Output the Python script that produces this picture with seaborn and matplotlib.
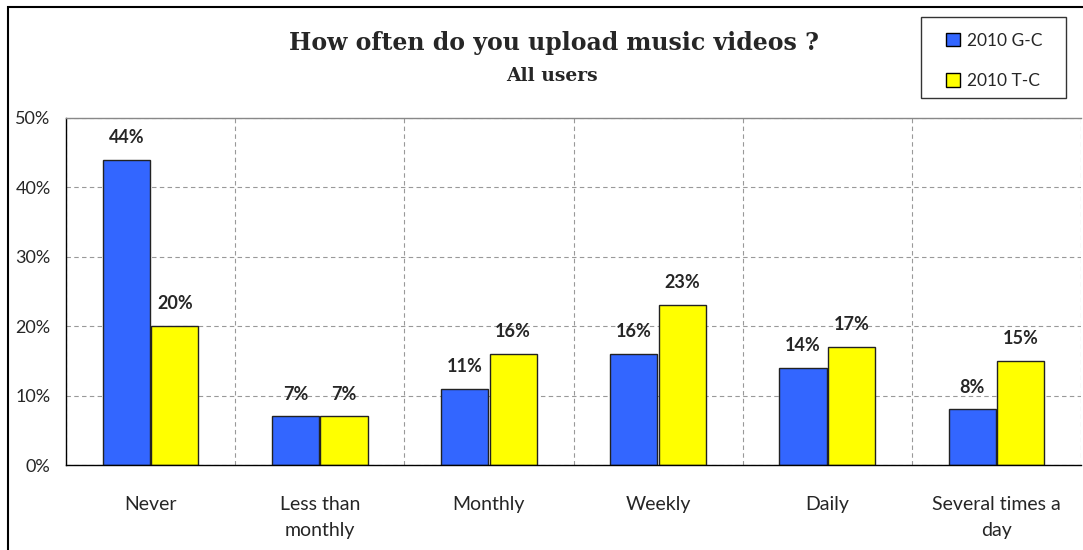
import numpy as np
import pandas as pd
import matplotlib
matplotlib.use("Agg")
import matplotlib.pyplot as plt
import seaborn as sns
from matplotlib.patches import Rectangle, Patch
from matplotlib.ticker import FixedLocator, PercentFormatter

# data
categories = ["Never", "Less than\nmonthly", "Monthly", "Weekly", "Daily", "Several times a\nday"]
series_names = ["2010 G-C", "2010 T-C"]
gc_values = [44, 7, 11, 16, 14, 8]
tc_values = [20, 7, 16, 23, 17, 15]
colors = ["#3366FF", "#FFFF00"]

df = pd.DataFrame({
    "category": categories * 2,
    "series": [series_names[0]] * len(categories) + [series_names[1]] * len(categories),
    "value": gc_values + tc_values,
})

sns.set_style("white")
plt.rcParams["font.family"] = ["Lato", "DejaVu Sans"]

fig = plt.figure(figsize=(10.83, 5.5), dpi=100)
ax = fig.add_axes([66 / 1083, 1 - 465 / 550, (1081 - 66) / 1083, (465 - 118) / 550])

sns.barplot(data=df, x="category", y="value", hue="series", order=categories,
            hue_order=series_names, palette=colors, width=0.574, gap=0.03,
            edgecolor="#222222", linewidth=1.0, saturation=1, ax=ax, legend=False)

for cont in ax.containers:
    ax.bar_label(cont, labels=[f"{v:.0f}%" for v in cont.datavalues],
                 padding=10, fontsize=13, fontweight="bold")

ax.set_ylim(0, 50)
ax.set_xlim(-0.5, len(categories) - 0.5)
ax.set_yticks(range(0, 51, 10))
ax.yaxis.set_major_formatter(PercentFormatter(decimals=0))
ax.set_xlabel("")
ax.set_ylabel("")

# vertical grid and ticks on category boundaries
ax.xaxis.set_minor_locator(FixedLocator(np.arange(-0.5, len(categories), 1.0)))
ax.tick_params(axis="x", which="major", length=0, pad=22, labelsize=14)
ax.tick_params(axis="x", which="minor", length=6, width=1, color="black", direction="out")
ax.tick_params(axis="y", length=6, width=1, color="black", direction="out", labelsize=13, pad=5)
for t in ax.get_xticklabels():
    t.set_linespacing(1.65)
    t.set_verticalalignment("top")

ax.grid(axis="y", which="major", color="#999999", linestyle=(0, (4, 3)), linewidth=0.8)
ax.grid(axis="x", which="minor", color="#999999", linestyle=(0, (4, 3)), linewidth=0.8)
ax.grid(axis="x", which="major", visible=False)
ax.set_axisbelow(True)

ax.spines["left"].set_color("black")
ax.spines["bottom"].set_color("black")
ax.spines["top"].set_color("#888888")
ax.spines["right"].set_visible(False)
for s in ["left", "bottom", "top"]:
    ax.spines[s].set_linewidth(1.0)

fig.text(554 / 1083, 1 - 43 / 550, "How often do you upload music videos ?",
         ha="center", va="center", fontsize=17, fontweight="bold", family="DejaVu Serif")
fig.text(552 / 1083, 1 - 76 / 550, "All users",
         ha="center", va="center", fontsize=13.5, fontweight="bold", family="DejaVu Serif")

# legend box and entries
fig.patches.append(Rectangle((921 / 1083, 1 - 98 / 550), 145 / 1083, 81 / 550,
                             transform=fig.transFigure, fill=False,
                             edgecolor="#333333", linewidth=1.0))
handles = [Patch(facecolor=c, edgecolor="black", linewidth=1) for c in colors]
fig.legend(handles, series_names, loc="center left",
           bbox_to_anchor=(946 / 1083, 1 - 61 / 550), fontsize=12.5,
           frameon=False, handlelength=0.8, handleheight=0.8, handletextpad=0.4,
           labelspacing=1.4, borderpad=0, borderaxespad=0)

# outer chart border
fig.patches.append(Rectangle((8 / 1083, -0.1), 1.2, 1 - 7 / 550 + 0.1,
                             transform=fig.transFigure, fill=False,
                             edgecolor="black", linewidth=1.5))

fig.savefig("out.png", dpi=100)
